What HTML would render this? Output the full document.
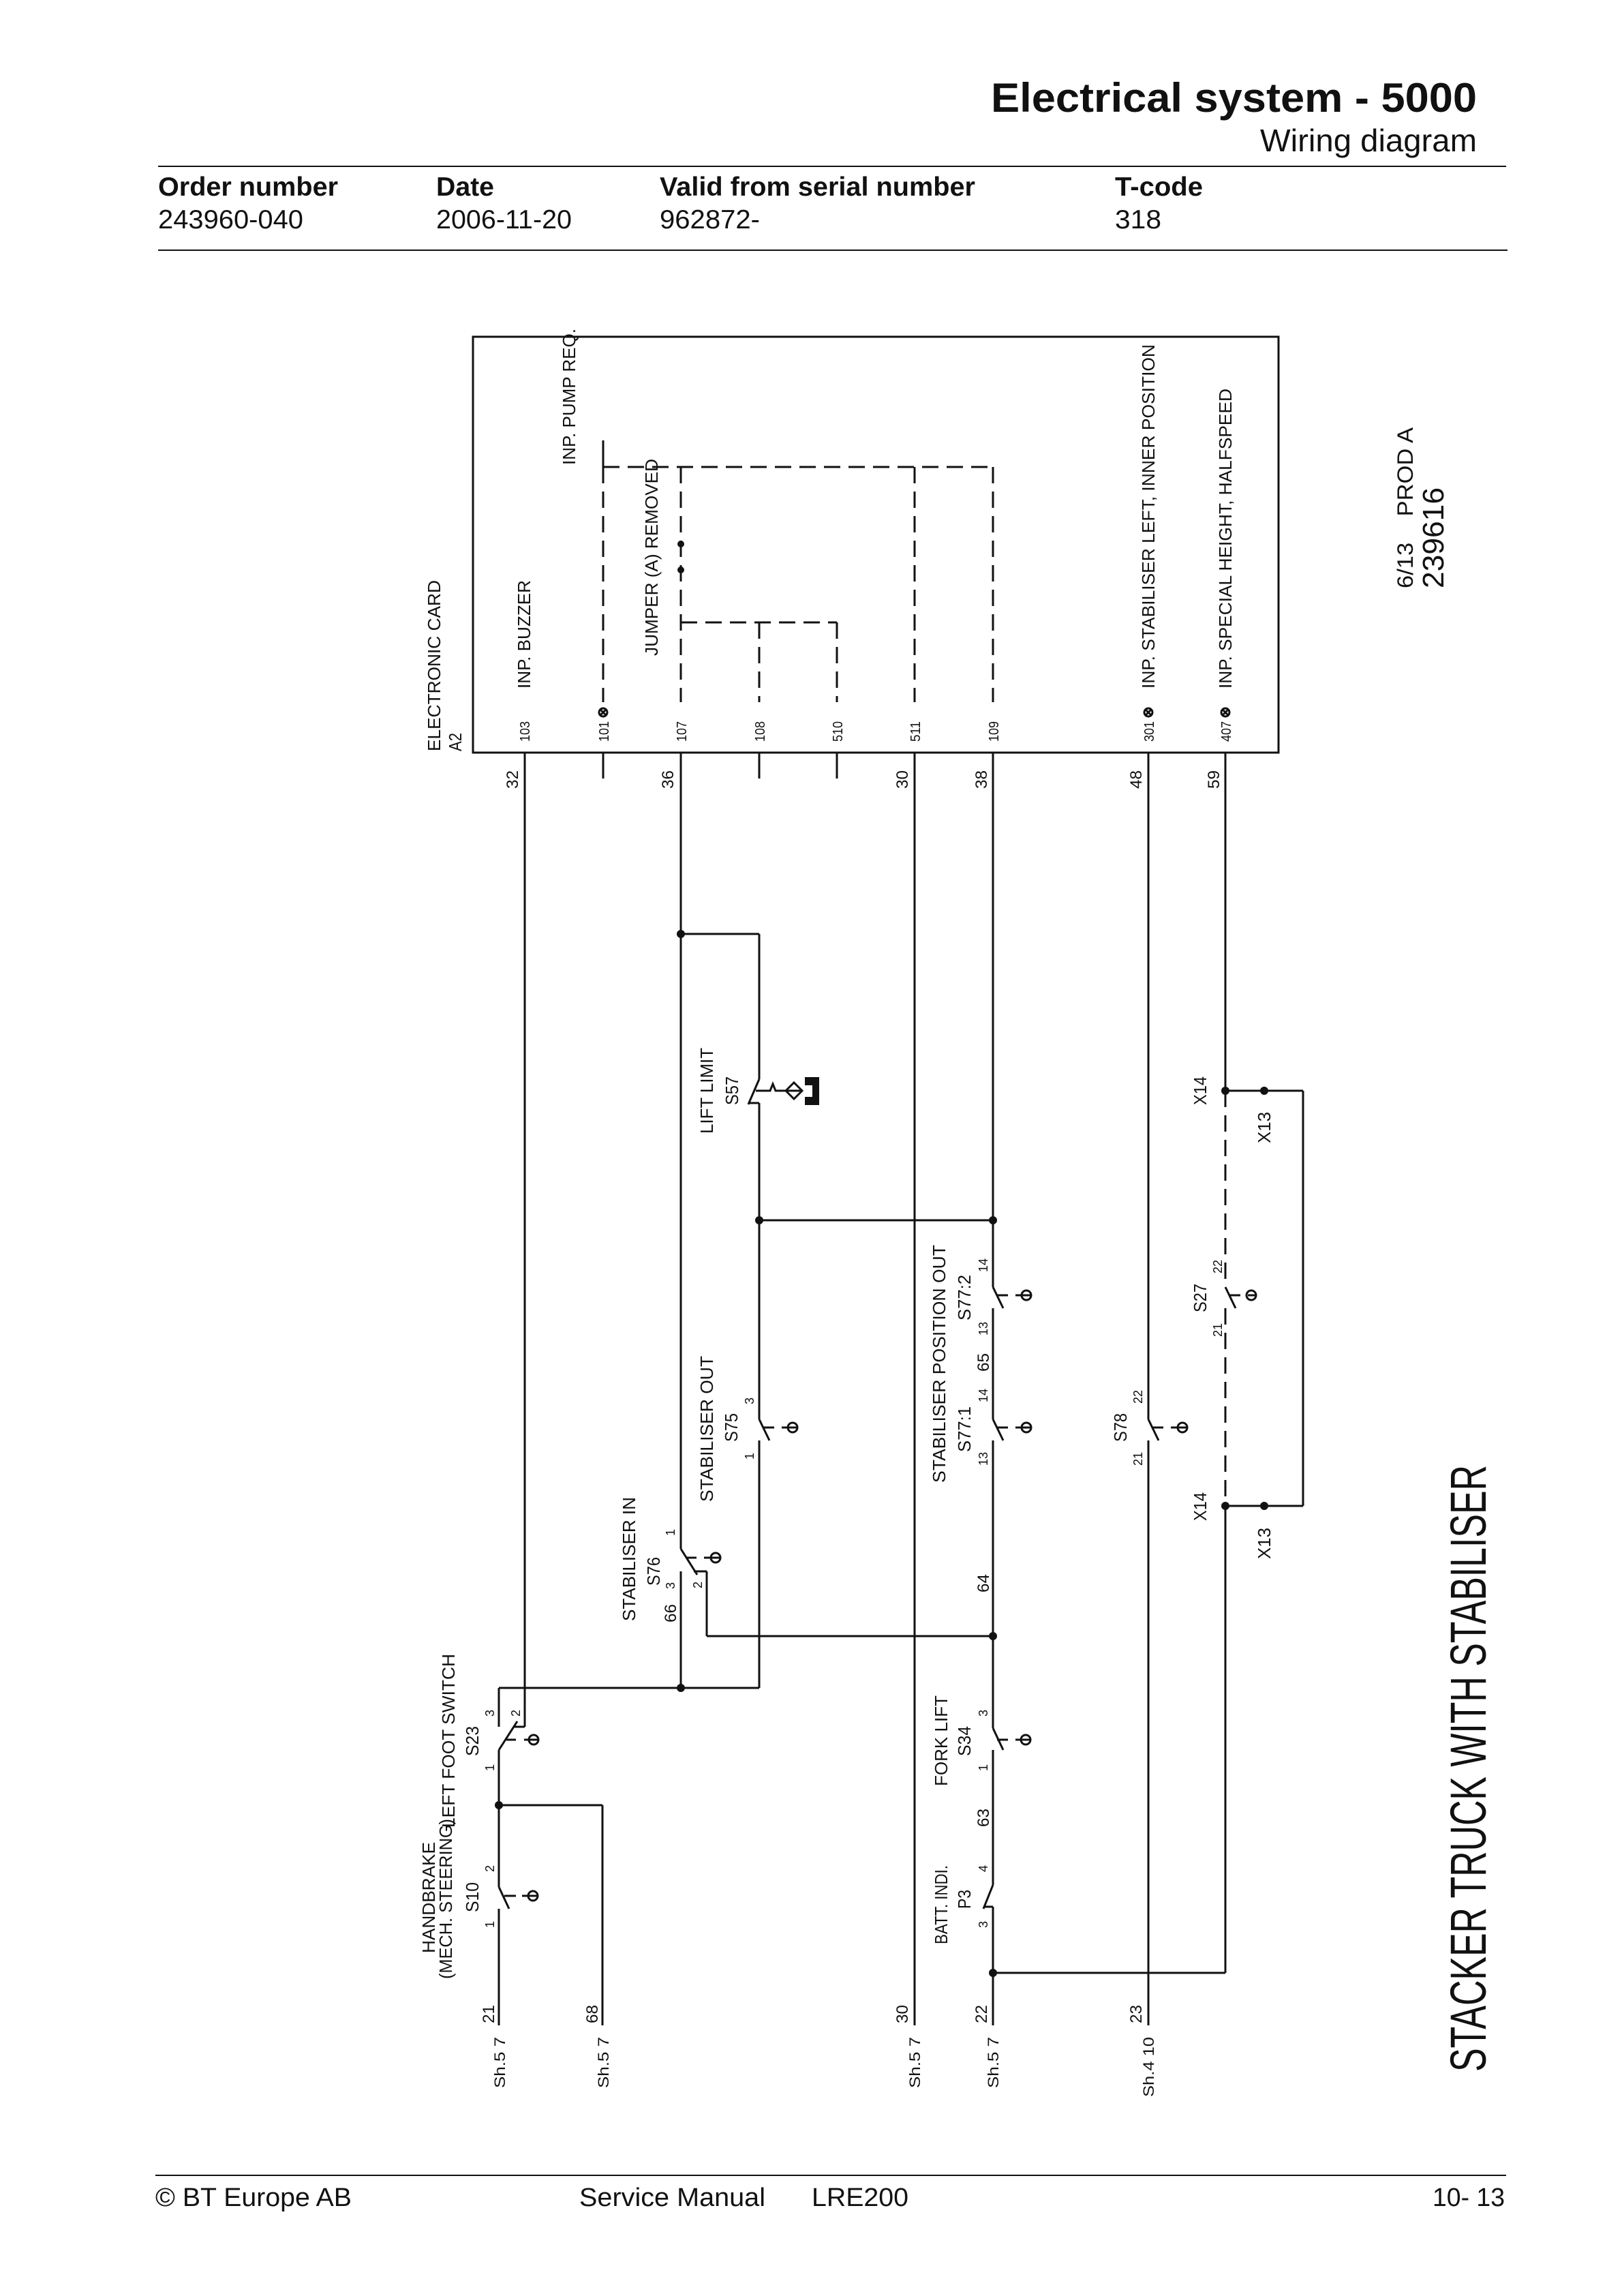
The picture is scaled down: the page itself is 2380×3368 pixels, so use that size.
<!DOCTYPE html>
<html><head><meta charset="utf-8"><style>
html,body{margin:0;padding:0;background:#fff}
svg{display:block}
text{font-family:"Liberation Sans",sans-serif;fill:#111}
.h{font-family:"Liberation Sans Narrow","Liberation Sans",sans-serif}
.w{stroke:#111;stroke-width:3;fill:none}
.d{stroke:#111;stroke-width:3;fill:none;stroke-dasharray:24 12}
</style></head><body>
<svg width="2380" height="3368" viewBox="0 0 2380 3368" xmlns="http://www.w3.org/2000/svg">
<!-- header -->
<text class="h" x="1454" y="164" font-size="60" font-weight="bold" textLength="713" lengthAdjust="spacingAndGlyphs">Electrical system - 5000</text>
<text class="h" x="1849" y="222" font-size="46" textLength="318" lengthAdjust="spacingAndGlyphs">Wiring diagram</text>
<line x1="232" y1="244" x2="2210" y2="244" stroke="#111" stroke-width="2"/>
<text class="h" x="232" y="287" font-size="39" font-weight="bold" textLength="264" lengthAdjust="spacingAndGlyphs">Order number</text>
<text class="h" x="640" y="287" font-size="39" font-weight="bold" textLength="85" lengthAdjust="spacingAndGlyphs">Date</text>
<text class="h" x="968" y="287" font-size="39" font-weight="bold" textLength="463" lengthAdjust="spacingAndGlyphs">Valid from serial number</text>
<text class="h" x="1636" y="287" font-size="39" font-weight="bold" textLength="129" lengthAdjust="spacingAndGlyphs">T-code</text>
<text class="h" x="232" y="335" font-size="39" textLength="213" lengthAdjust="spacingAndGlyphs">243960-040</text>
<text class="h" x="640" y="335" font-size="39" textLength="199" lengthAdjust="spacingAndGlyphs">2006-11-20</text>
<text class="h" x="968" y="335" font-size="39" textLength="147" lengthAdjust="spacingAndGlyphs">962872-</text>
<text class="h" x="1636" y="335" font-size="39" textLength="68" lengthAdjust="spacingAndGlyphs">318</text>
<line x1="232" y1="367" x2="2212" y2="367" stroke="#111" stroke-width="2"/>

<!-- box -->
<rect x="694" y="494" width="1182" height="610" class="w"/>
<g font-size="26">
<text transform="translate(646,1102) rotate(-90)" textLength="251" lengthAdjust="spacingAndGlyphs">ELECTRONIC CARD</text>
<text transform="translate(677,1102) rotate(-90)" textLength="27" lengthAdjust="spacingAndGlyphs">A2</text>
<text transform="translate(778,1010) rotate(-90)" textLength="159" lengthAdjust="spacingAndGlyphs">INP. BUZZER</text>
<text transform="translate(844,682) rotate(-90)" textLength="200" lengthAdjust="spacingAndGlyphs">INP. PUMP REQ.</text>
<text transform="translate(965,962) rotate(-90)" textLength="289" lengthAdjust="spacingAndGlyphs">JUMPER (A) REMOVED</text>
<text transform="translate(1694,1010) rotate(-90)" textLength="505" lengthAdjust="spacingAndGlyphs">INP. STABILISER LEFT, INNER POSITION</text>
<text transform="translate(1807,1010) rotate(-90)" textLength="440" lengthAdjust="spacingAndGlyphs">INP. SPECIAL HEIGHT, HALFSPEED</text>
</g>
<g font-size="20">
<text transform="translate(777,1088) rotate(-90)" textLength="30" lengthAdjust="spacingAndGlyphs">103</text>
<text transform="translate(893,1088) rotate(-90)" textLength="30" lengthAdjust="spacingAndGlyphs">101</text>
<text transform="translate(1007,1088) rotate(-90)" textLength="30" lengthAdjust="spacingAndGlyphs">107</text>
<text transform="translate(1122,1088) rotate(-90)" textLength="30" lengthAdjust="spacingAndGlyphs">108</text>
<text transform="translate(1236,1088) rotate(-90)" textLength="30" lengthAdjust="spacingAndGlyphs">510</text>
<text transform="translate(1350,1088) rotate(-90)" textLength="30" lengthAdjust="spacingAndGlyphs">511</text>
<text transform="translate(1465,1088) rotate(-90)" textLength="30" lengthAdjust="spacingAndGlyphs">109</text>
<text transform="translate(1693,1088) rotate(-90)" textLength="30" lengthAdjust="spacingAndGlyphs">301</text>
<text transform="translate(1806,1088) rotate(-90)" textLength="30" lengthAdjust="spacingAndGlyphs">407</text>
</g>
<g class="w" stroke-width="2">
<circle cx="885" cy="1045" r="6"/><line x1="881" y1="1041" x2="889" y2="1049"/><line x1="889" y1="1041" x2="881" y2="1049"/>
<circle cx="1685" cy="1045" r="6"/><line x1="1681" y1="1041" x2="1689" y2="1049"/><line x1="1689" y1="1041" x2="1681" y2="1049"/>
<circle cx="1798" cy="1045" r="6"/><line x1="1794" y1="1041" x2="1802" y2="1049"/><line x1="1802" y1="1041" x2="1794" y2="1049"/>
</g>
<!-- dashed internal -->
<line class="w" x1="885" y1="646" x2="885" y2="685"/>
<line class="d" x1="885" y1="685" x2="885" y2="1030"/>
<line class="d" x1="885" y1="685" x2="1457" y2="685"/>
<line class="d" x1="999" y1="685" x2="999" y2="1030"/>
<line class="d" x1="999" y1="913" x2="1228" y2="913"/>
<line class="d" x1="1114" y1="913" x2="1114" y2="1030"/>
<line class="d" x1="1228" y1="913" x2="1228" y2="1030"/>
<line class="d" x1="1342" y1="685" x2="1342" y2="1030"/>
<line class="d" x1="1457" y1="685" x2="1457" y2="1030"/>
<circle cx="999" cy="798" r="5" fill="#111"/><circle cx="999" cy="836" r="5" fill="#111"/>

<text transform="translate(2073,863) rotate(-90)" font-size="32" xml:space="preserve" style="white-space:pre" textLength="236" lengthAdjust="spacingAndGlyphs">6/13    PROD A</text>
<text transform="translate(2118,863) rotate(-90)" font-size="44" textLength="148" lengthAdjust="spacingAndGlyphs">239616</text>

<!-- wire labels under box -->
<g font-size="24">
<text transform="translate(760,1157) rotate(-90)" textLength="27" lengthAdjust="spacingAndGlyphs">32</text>
<text transform="translate(988,1157) rotate(-90)" textLength="27" lengthAdjust="spacingAndGlyphs">36</text>
<text transform="translate(1332,1157) rotate(-90)" textLength="27" lengthAdjust="spacingAndGlyphs">30</text>
<text transform="translate(1448,1157) rotate(-90)" textLength="27" lengthAdjust="spacingAndGlyphs">38</text>
<text transform="translate(1675,1157) rotate(-90)" textLength="27" lengthAdjust="spacingAndGlyphs">48</text>
<text transform="translate(1789,1157) rotate(-90)" textLength="27" lengthAdjust="spacingAndGlyphs">59</text>
</g>

<!-- wires -->
<g class="w">
<line x1="770" y1="1104" x2="770" y2="2533"/><line x1="770" y1="2533" x2="754" y2="2533"/>
<line x1="885" y1="1104" x2="885" y2="1142"/>
<line x1="1114" y1="1104" x2="1114" y2="1142"/>
<line x1="1228" y1="1104" x2="1228" y2="1142"/>
<line x1="999" y1="1104" x2="999" y2="2272"/>
<line x1="999" y1="2305" x2="999" y2="2476"/>
<line x1="999" y1="1370" x2="1114" y2="1370"/>
<line x1="1114" y1="1370" x2="1114" y2="1583"/>
<line x1="1114" y1="1618" x2="1114" y2="2082"/>
<line x1="1114" y1="2113" x2="1114" y2="2476"/>
<line x1="1114" y1="1790" x2="1457" y2="1790"/>
<line x1="732" y1="2476" x2="1114" y2="2476"/>
<line x1="1018" y1="2305" x2="1037" y2="2305"/><line x1="1037" y1="2305" x2="1037" y2="2400"/><line x1="1037" y1="2400" x2="1457" y2="2400"/>
<line x1="1342" y1="1104" x2="1342" y2="2971"/>
<line x1="1457" y1="1104" x2="1457" y2="1888"/>
<line x1="1457" y1="1919" x2="1457" y2="2082"/>
<line x1="1457" y1="2113" x2="1457" y2="2535"/>
<line x1="1457" y1="2567" x2="1457" y2="2765"/>
<line x1="1457" y1="2797" x2="1457" y2="2971"/>
<line x1="1457" y1="2894" x2="1798" y2="2894"/>
<line x1="1685" y1="1104" x2="1685" y2="2082"/>
<line x1="1685" y1="2113" x2="1685" y2="2971"/>
<line x1="1798" y1="1104" x2="1798" y2="1600"/>
<line x1="1798" y1="2209" x2="1798" y2="2894"/>
<line x1="1798" y1="1600" x2="1912" y2="1600"/><line x1="1912" y1="1600" x2="1912" y2="2209"/><line x1="1798" y1="2209" x2="1912" y2="2209"/>
<line x1="732" y1="2476" x2="732" y2="2533"/>
<line x1="732" y1="2567" x2="732" y2="2768"/>
<line x1="732" y1="2800" x2="732" y2="2971"/>
<line x1="732" y1="2648" x2="884" y2="2648"/><line x1="884" y1="2648" x2="884" y2="2971"/>
</g>
<line class="d" x1="1798" y1="1600" x2="1798" y2="1888"/>
<line class="d" x1="1798" y1="1919" x2="1798" y2="2209"/>
<g fill="#111">
<circle cx="999" cy="1370" r="6"/><circle cx="1114" cy="1790" r="6"/><circle cx="1457" cy="1790" r="6"/>
<circle cx="999" cy="2476" r="6"/><circle cx="1457" cy="2400" r="6"/><circle cx="732" cy="2648" r="6"/>
<circle cx="1457" cy="2894" r="6"/>
<circle cx="1798" cy="1600" r="6"/><circle cx="1855" cy="1600" r="6"/><circle cx="1798" cy="2209" r="6"/><circle cx="1855" cy="2209" r="6"/>
</g>

<!-- switch symbols -->
<g class="w" stroke-width="2.5">
<line x1="1114" y1="1583" x2="1098" y2="1620"/><line x1="1098" y1="1618" x2="1114" y2="1618"/>
<polyline points="1109,1600 1130,1600 1134,1590 1138,1600 1152,1600"/>
<polygon points="1165,1588 1177,1600 1165,1612 1153,1600"/><line x1="1153" y1="1600" x2="1177" y2="1600"/>
<line x1="1114" y1="2082" x2="1129" y2="2113"/><line x1="1120" y1="2094" x2="1136" y2="2094"/><line x1="1147" y1="2094" x2="1170" y2="2094"/><circle cx="1163" cy="2094" r="7"/>
<line x1="1457" y1="2082" x2="1472" y2="2113"/><line x1="1463" y1="2094" x2="1479" y2="2094"/><line x1="1490" y1="2094" x2="1513" y2="2094"/><circle cx="1506" cy="2094" r="7"/>
<line x1="1457" y1="1888" x2="1472" y2="1919"/><line x1="1463" y1="1900" x2="1479" y2="1900"/><line x1="1490" y1="1900" x2="1513" y2="1900"/><circle cx="1506" cy="1900" r="7"/>
<line x1="1685" y1="2082" x2="1700" y2="2113"/><line x1="1691" y1="2094" x2="1707" y2="2094"/><line x1="1718" y1="2094" x2="1742" y2="2094"/><circle cx="1735" cy="2094" r="7"/>
<line x1="1798" y1="1888" x2="1813" y2="1919"/><line x1="1804" y1="1900" x2="1820" y2="1900"/><line x1="1831" y1="1900" x2="1843" y2="1900"/><circle cx="1836" cy="1900" r="7"/>
<line x1="999" y1="2272" x2="1023" y2="2310"/><line x1="1007" y1="2285" x2="1022" y2="2285"/><line x1="1033" y1="2285" x2="1057" y2="2285"/><circle cx="1050" cy="2285" r="7"/>
<line x1="732" y1="2567" x2="759" y2="2525"/><line x1="743" y1="2552" x2="757" y2="2552"/><line x1="769" y1="2552" x2="790" y2="2552"/><circle cx="783" cy="2552" r="7"/>
<line x1="732" y1="2768" x2="747" y2="2800"/><line x1="740" y1="2781" x2="757" y2="2781"/><line x1="766" y1="2781" x2="789" y2="2781"/><circle cx="782" cy="2781" r="7"/>
<line x1="1457" y1="2535" x2="1472" y2="2567"/><line x1="1463" y1="2552" x2="1479" y2="2552"/><line x1="1490" y1="2552" x2="1512" y2="2552"/><circle cx="1505" cy="2552" r="7"/>
<line x1="1457" y1="2765" x2="1443" y2="2800"/><line x1="1443" y1="2797" x2="1457" y2="2797"/>
</g>
<path d="M1181,1580 H1202 V1621 H1181 V1609 H1192 V1592 H1181 Z" fill="#111"/>

<!-- diagram labels -->
<g font-size="26">
<text transform="translate(1046,1663) rotate(-90)" textLength="126" lengthAdjust="spacingAndGlyphs">LIFT LIMIT</text>
<text transform="translate(1083,1621) rotate(-90)" textLength="42" lengthAdjust="spacingAndGlyphs">S57</text>
<text transform="translate(1046,2203) rotate(-90)" textLength="214" lengthAdjust="spacingAndGlyphs">STABILISER OUT</text>
<text transform="translate(1082,2115) rotate(-90)" textLength="42" lengthAdjust="spacingAndGlyphs">S75</text>
<text transform="translate(1387,2175) rotate(-90)" textLength="349" lengthAdjust="spacingAndGlyphs">STABILISER POSITION OUT</text>
<text transform="translate(1424,1937) rotate(-90)" textLength="67" lengthAdjust="spacingAndGlyphs">S77:2</text>
<text transform="translate(1424,2130) rotate(-90)" textLength="67" lengthAdjust="spacingAndGlyphs">S77:1</text>
<text transform="translate(1653,2115) rotate(-90)" textLength="42" lengthAdjust="spacingAndGlyphs">S78</text>
<text transform="translate(1770,1925) rotate(-90)" textLength="42" lengthAdjust="spacingAndGlyphs">S27</text>
<text transform="translate(1770,1621) rotate(-90)" textLength="42" lengthAdjust="spacingAndGlyphs">X14</text>
<text transform="translate(1770,2231) rotate(-90)" textLength="42" lengthAdjust="spacingAndGlyphs">X14</text>
<text transform="translate(1864,1677) rotate(-90)" textLength="46" lengthAdjust="spacingAndGlyphs">X13</text>
<text transform="translate(1864,2287) rotate(-90)" textLength="46" lengthAdjust="spacingAndGlyphs">X13</text>
<text transform="translate(932,2378) rotate(-90)" textLength="182" lengthAdjust="spacingAndGlyphs">STABILISER IN</text>
<text transform="translate(968,2326) rotate(-90)" textLength="42" lengthAdjust="spacingAndGlyphs">S76</text>
<text transform="translate(667,2681) rotate(-90)" textLength="255" lengthAdjust="spacingAndGlyphs">LEFT FOOT SWITCH</text>
<text transform="translate(663,2903) rotate(-90)" textLength="235" lengthAdjust="spacingAndGlyphs">(MECH. STEERING)</text>
<text transform="translate(638,2865) rotate(-90)" textLength="163" lengthAdjust="spacingAndGlyphs">HANDBRAKE</text>
<text transform="translate(702,2576) rotate(-90)" textLength="44" lengthAdjust="spacingAndGlyphs">S23</text>
<text transform="translate(702,2805) rotate(-90)" textLength="44" lengthAdjust="spacingAndGlyphs">S10</text>
<text transform="translate(1390,2620) rotate(-90)" textLength="133" lengthAdjust="spacingAndGlyphs">FORK LIFT</text>
<text transform="translate(1424,2576) rotate(-90)" textLength="44" lengthAdjust="spacingAndGlyphs">S34</text>
<text transform="translate(1390,2852) rotate(-90)" textLength="116" lengthAdjust="spacingAndGlyphs">BATT. INDI.</text>
<text transform="translate(1424,2800) rotate(-90)" textLength="28" lengthAdjust="spacingAndGlyphs">P3</text>
</g>
<g font-size="18">
<text transform="translate(1106,2060) rotate(-90)">3</text>
<text transform="translate(1106,2141) rotate(-90)">1</text>
<text transform="translate(1449,1866) rotate(-90)">14</text>
<text transform="translate(1449,1959) rotate(-90)">13</text>
<text transform="translate(1449,2057) rotate(-90)">14</text>
<text transform="translate(1449,2150) rotate(-90)">13</text>
<text transform="translate(1676,2059) rotate(-90)">22</text>
<text transform="translate(1676,2150) rotate(-90)">21</text>
<text transform="translate(1793,1868) rotate(-90)">22</text>
<text transform="translate(1793,1961) rotate(-90)">21</text>
<text transform="translate(990,2253) rotate(-90)">1</text>
<text transform="translate(990,2331) rotate(-90)">3</text>
<text transform="translate(1030,2330) rotate(-90)">2</text>
<text transform="translate(725,2518) rotate(-90)">3</text>
<text transform="translate(725,2598) rotate(-90)">1</text>
<text transform="translate(763,2518) rotate(-90)">2</text>
<text transform="translate(725,2746) rotate(-90)">2</text>
<text transform="translate(725,2828) rotate(-90)">1</text>
<text transform="translate(1449,2518) rotate(-90)">3</text>
<text transform="translate(1449,2598) rotate(-90)">1</text>
<text transform="translate(1449,2746) rotate(-90)">4</text>
<text transform="translate(1449,2828) rotate(-90)">3</text>
</g>
<g font-size="24">
<text transform="translate(1451,2012) rotate(-90)" textLength="27" lengthAdjust="spacingAndGlyphs">65</text>
<text transform="translate(1451,2336) rotate(-90)" textLength="27" lengthAdjust="spacingAndGlyphs">64</text>
<text transform="translate(1451,2680) rotate(-90)" textLength="27" lengthAdjust="spacingAndGlyphs">63</text>
<text transform="translate(992,2380) rotate(-90)" textLength="27" lengthAdjust="spacingAndGlyphs">66</text>
<text transform="translate(725,2968) rotate(-90)" textLength="27" lengthAdjust="spacingAndGlyphs">21</text>
<text transform="translate(877,2968) rotate(-90)" textLength="27" lengthAdjust="spacingAndGlyphs">68</text>
<text transform="translate(1332,2968) rotate(-90)" textLength="27" lengthAdjust="spacingAndGlyphs">30</text>
<text transform="translate(1448,2968) rotate(-90)" textLength="27" lengthAdjust="spacingAndGlyphs">22</text>
<text transform="translate(1675,2968) rotate(-90)" textLength="27" lengthAdjust="spacingAndGlyphs">23</text>
</g>
<g font-size="22">
<text transform="translate(741,3063) rotate(-90)" textLength="75" lengthAdjust="spacingAndGlyphs">Sh.5 7</text>
<text transform="translate(893,3063) rotate(-90)" textLength="75" lengthAdjust="spacingAndGlyphs">Sh.5 7</text>
<text transform="translate(1350,3063) rotate(-90)" textLength="75" lengthAdjust="spacingAndGlyphs">Sh.5 7</text>
<text transform="translate(1465,3063) rotate(-90)" textLength="75" lengthAdjust="spacingAndGlyphs">Sh.5 7</text>
<text transform="translate(1693,3076) rotate(-90)" textLength="88" lengthAdjust="spacingAndGlyphs">Sh.4 10</text>
</g>
<text transform="translate(2180,3039) rotate(-90)" font-size="74" textLength="890" lengthAdjust="spacingAndGlyphs">STACKER TRUCK WITH STABILISER</text>

<!-- footer -->
<line x1="228" y1="3191" x2="2210" y2="3191" stroke="#111" stroke-width="2"/>
<text class="h" x="228" y="3236" font-size="38" textLength="288" lengthAdjust="spacingAndGlyphs">© BT Europe AB</text>
<text class="h" x="850" y="3236" font-size="38" textLength="273" lengthAdjust="spacingAndGlyphs">Service Manual</text>
<text class="h" x="1191" y="3236" font-size="38" textLength="142" lengthAdjust="spacingAndGlyphs">LRE200</text>
<text class="h" x="2102" y="3236" font-size="38" textLength="106" lengthAdjust="spacingAndGlyphs">10- 13</text>
</svg>
</body></html>
